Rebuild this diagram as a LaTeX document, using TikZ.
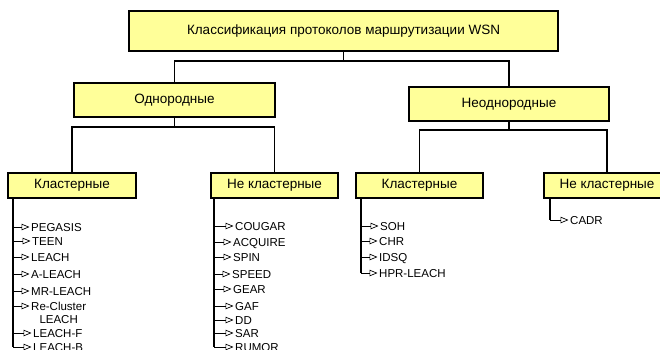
\documentclass[tikz,border=0pt]{standalone}
\usepackage{fontspec}
\setmainfont{Liberation Sans}
\usepackage{xcolor}
\usetikzlibrary{arrows.meta,positioning}
\definecolor{boxyellow}{RGB}{255,255,153}

\begin{document}
\begin{tikzpicture}[x=1pt, y=-1pt, line join=miter,
  >={Triangle[open,length=8pt,width=6.5pt]},
  box/.style={draw=black, line width=1.2pt, fill=boxyellow, inner sep=0pt,
    font=\fontsize{13.5}{15}\selectfont},
  conn/.style={line width=1.8pt},
  tick/.style={->, line width=0.7pt, shorten >=1.5pt},
  item/.style={anchor=west, inner sep=0pt, text height=8pt, text depth=0pt,
    font=\fontsize{11.5}{13}\selectfont}]

\useasboundingbox (0,0) rectangle (660,349);

% Riquadri
\node[box, minimum width=429pt, minimum height=40pt] (root) at (343.5,31)
  {Классификация протоколов маршрутизации WSN};
\node[box, minimum width=201pt, minimum height=34pt] (odn) at (174.5,100) {Однородные};
\node[box, minimum width=200pt, minimum height=34pt] (neodn) at (509,104) {Неоднородные};

\node[box, minimum width=128pt, minimum height=25pt] (kl1) at (72,185.5) {Кластерные};
\node[box, minimum width=127pt, minimum height=25pt] (nkl1) at (274.5,185.5) {Не кластерные};
\node[box, minimum width=127pt, minimum height=25pt] (kl2) at (419.5,185.5) {Кластерные};
\node[box, minimum width=126pt, minimum height=25pt] (nkl2) at (607,185.5) {Не кластерные};

% Collegamenti
\coordinate (bus0) at (343.5,61);
\coordinate (bus1) at (174.5,127);
\coordinate (bus2) at (509,130);
\draw[conn] (root.south) -- (bus0);
\draw[conn] (bus0) -| (odn.north);
\draw[conn] (bus0) -| (neodn.north);
\draw[conn] (odn.south) -- (bus1);
\draw[conn] (bus1) -| (kl1.north);
\draw[conn] (bus1) -| (nkl1.north);
\draw[conn] (neodn.south) -- (bus2);
\draw[conn] (bus2) -| (kl2.north);
\draw[conn] (bus2) -| (nkl2.north);

% Elenco: omogenei, cluster
\node[item] (pegasis) at (31,227) {PEGASIS};
\node[item] (teen)    at (32,241) {TEEN};
\node[item] (leach)   at (31,257) {LEACH};
\node[item] (aleach)  at (31,274) {A-LEACH};
\node[item] (mrleach) at (31,291) {MR-LEACH};
\node[item] (rcl)     at (31,306) {Re-Cluster};
\node[item, anchor=north, below=5pt of rcl] (rcl2) {LEACH};
\node[item] (leachf)  at (33,333) {LEACH-F};
\node[item] (leachb)  at (33,347) {LEACH-B};

\coordinate (sp1) at (13,198);
\draw[conn] (sp1) |- (leachb.west -| sp1);
\foreach \n in {pegasis,teen,leach,aleach,mrleach,rcl,leachf,leachb}
  \draw[tick] (sp1 |- \n.west) -- (\n.west);

% Elenco: omogenei, non cluster
\node[item] (cougar)  at (235,226) {COUGAR};
\node[item] (acquire) at (233,242) {ACQUIRE};
\node[item] (spin)    at (233,257) {SPIN};
\node[item] (speed)   at (232,274) {SPEED};
\node[item] (gear)    at (233,289) {GEAR};
\node[item] (gaf)     at (235,306) {GAF};
\node[item] (dd)      at (235,320) {DD};
\node[item] (sar)     at (235,333) {SAR};
\node[item] (rumor)   at (235,347) {RUMOR};

\coordinate (sp2) at (214,198);
\draw[conn] (sp2) -- (rumor.west -| sp2);
\foreach \n in {cougar,acquire,spin,speed,gear,gaf,dd,sar,rumor}
  \draw[tick] (sp2 |- \n.west) -- (\n.west);

% Elenco: eterogenei, cluster
\node[item] (soh)     at (380,226) {SOH};
\node[item] (chr)     at (379,241) {CHR};
\node[item] (idsq)    at (379,257) {IDSQ};
\node[item] (hpr)     at (379,273) {HPR-LEACH};

\coordinate (sp3) at (361,198);
\draw[conn] (sp3) -- (hpr.west -| sp3);
\foreach \n in {soh,chr,idsq,hpr}
  \draw[tick] (sp3 |- \n.west) -- (\n.west);

% Elenco: eterogenei, non cluster
\node[item] (cadr)    at (570,220) {CADR};
\coordinate (sp4) at (550,198);
\draw[conn] (sp4) -- (cadr.west -| sp4);
\draw[tick] (sp4 |- cadr.west) -- (cadr.west);

\end{tikzpicture}
\end{document}
